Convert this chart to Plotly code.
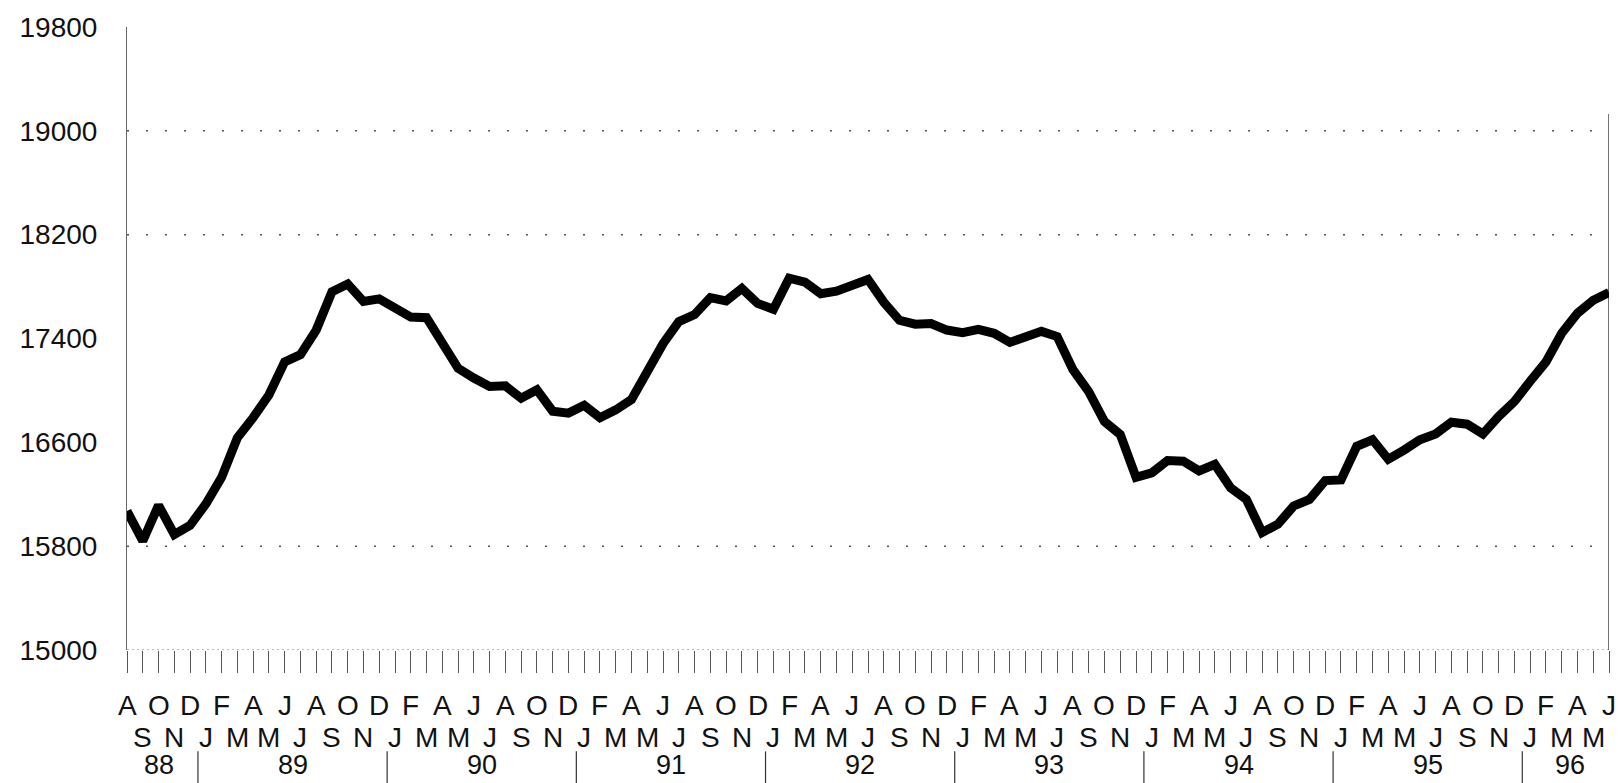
import plotly.graph_objects as go

# Monthly series, Aug 1988 - Jun 1996
V1988 = [16070, 15840, 16115, 15890, 15960]
V1989 = [16125, 16330, 16635, 16790, 16965, 17220, 17275, 17465, 17760, 17820, 17685, 17705]
V1990 = [17630, 17565, 17560, 17360, 17170, 17095, 17030, 17035, 16940, 17005, 16840, 16825]
V1991 = [16885, 16790, 16850, 16930, 17145, 17360, 17530, 17585, 17715, 17690, 17785, 17670]
V1992 = [17625, 17865, 17835, 17745, 17765, 17815, 17855, 17680, 17540, 17510, 17515, 17465]
V1993 = [17445, 17470, 17440, 17370, 17415, 17455, 17415, 17160, 16990, 16760, 16660, 16330]
V1994 = [16365, 16460, 16455, 16380, 16430, 16250, 16160, 15905, 15970, 16110, 16160, 16305]
V1995 = [16310, 16570, 16620, 16470, 16540, 16620, 16665, 16755, 16740, 16665, 16800, 16915]
V1996 = [17070, 17220, 17440, 17595, 17695, 17755]

YEAR_LABELS = ["88", "89", "90", "91", "92", "93", "94", "95", "96"]
YEAR_SERIES = [V1988, V1989, V1990, V1991, V1992, V1993, V1994, V1995, V1996]
MONTH_LETTERS = ["J", "F", "M", "A", "M", "J", "J", "A", "S", "O", "N", "D"]
FIRST_MONTH = 7  # August (0-based)

Y_TICKS = [15000, 15800, 16600, 17400, 18200, 19000, 19800]
GRID_LEVELS = [15800, 18200, 19000]

values = [v for ys in YEAR_SERIES for v in ys]
idx = list(range(len(values)))
letters = [MONTH_LETTERS[(FIRST_MONTH + i) % 12] for i in idx]
last = idx[-1]

FONT = "Liberation Sans, Arial, Helvetica, sans-serif"
INK = "#111111"
PLOT_H = 783 - 23 - 133

fig = go.Figure()
fig.add_trace(go.Scatter(
    x=idx, y=values, mode="lines",
    line=dict(color="black", width=9, shape="linear"),
    hoverinfo="skip", showlegend=False,
))

shapes = []
# sparse dotted gridlines
for lv in GRID_LEVELS:
    shapes.append(dict(type="line", xref="x", yref="y", x0=0, x1=last, y0=lv, y1=lv,
                       line=dict(color="#555555", width=1.5, dash="2px,17px"), layer="below"))
# dotted baseline along the month ticks
shapes.append(dict(type="line", xref="x", yref="y", x0=0, x1=last, y0=Y_TICKS[0], y1=Y_TICKS[0],
                   line=dict(color="#777777", width=1, dash="2px,3px"), layer="below"))
# right-hand edge line
shapes.append(dict(type="line", xref="x", yref="y", x0=last, x1=last, y0=Y_TICKS[0], y1=19130,
                   line=dict(color="#444444", width=1.5), layer="below"))

annotations = []
# month letters on two staggered rows
for i in idx:
    row_shift = -55 if i % 2 == 0 else -87
    annotations.append(dict(x=i, y=0, xref="x", yref="paper", text=letters[i],
                            showarrow=False, yanchor="middle", xanchor="center",
                            yshift=row_shift, borderpad=0,
                            font=dict(family=FONT, size=28, color=INK)))

# year labels and separators
start = 0
for k, (lab, ys) in enumerate(zip(YEAR_LABELS, YEAR_SERIES)):
    n = len(ys)
    centre = start + (n - 1) / 2
    annotations.append(dict(x=centre, y=0, xref="x", yref="paper", text=lab,
                            showarrow=False, yanchor="middle", xanchor="center",
                            yshift=-115, borderpad=0,
                            font=dict(family=FONT, size=27, color=INK)))
    if k > 0:
        sep = start - 0.5
        shapes.append(dict(type="line", xref="x", yref="paper", x0=sep, x1=sep,
                           y0=-102 / PLOT_H, y1=-135 / PLOT_H,
                           line=dict(color="#333333", width=1.2)))
    start += n

fig.update_layout(
    width=1624, height=783,
    margin=dict(l=127, r=15, t=23, b=133, pad=0),
    paper_bgcolor="white", plot_bgcolor="white",
    font=dict(family=FONT, size=28, color=INK),
    shapes=shapes, annotations=annotations,
    xaxis=dict(
        range=[0, last], showgrid=False, zeroline=False, showline=False,
        tickmode="array", tickvals=idx, ticks="outside", ticklen=22,
        tickwidth=1, tickcolor="#555555", showticklabels=False,
    ),
    yaxis=dict(
        range=[Y_TICKS[0], Y_TICKS[-1]], showgrid=False, zeroline=False,
        showline=True, linecolor="#666666", linewidth=1,
        tickmode="array", tickvals=Y_TICKS, ticktext=[str(t) for t in Y_TICKS],
        ticks="", ticklabelstandoff=23,
        tickfont=dict(family=FONT, size=28, color=INK),
    ),
)

fig.write_html("out.html")
